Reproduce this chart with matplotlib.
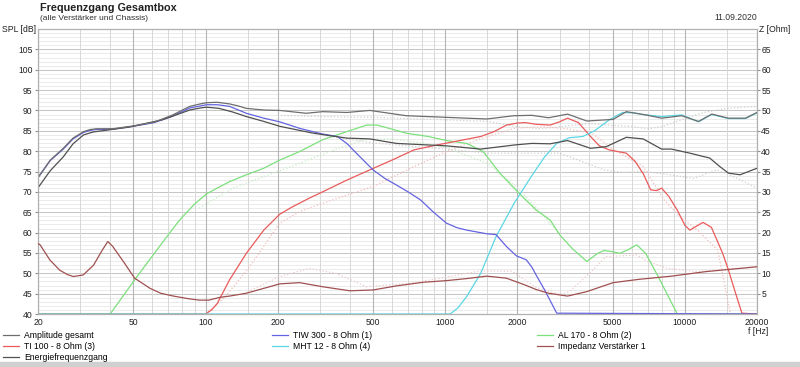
import matplotlib
matplotlib.use("Agg")
import matplotlib.pyplot as plt
from matplotlib.patches import Rectangle
from matplotlib.ticker import FixedLocator, NullFormatter

plt.rcParams['font.family'] = ['Liberation Sans', 'DejaVu Sans']

# ---------------- data ----------------
amp_f = [20, 20.4, 22.5, 25.5, 28, 31, 33, 35, 41, 50, 61, 73, 86, 95, 101, 112, 126, 137, 148, 175,
         204, 263, 308, 389, 485, 688, 1013, 1492, 1935, 2300, 2700, 3240, 3900, 5020, 5700, 6860, 8000,
         9700, 11400, 12950, 15200, 17900, 20000]
amp_db = [73.5, 74.2, 77.8, 80.7, 83.2, 84.8, 85.3, 85.5, 85.5, 86.2, 87.1, 88.9, 91.0, 91.6, 91.9, 92.0,
          91.6, 91.1, 90.5, 90.1, 90.0, 89.3, 89.7, 89.5, 90.0, 88.7, 88.3, 87.9, 88.7, 88.8, 88.2, 89.1,
          87.4, 87.8, 89.7, 88.9, 88.1, 88.7, 87.3, 89.1, 88.1, 88.1, 89.5]

energy_f = [20, 20.4, 22.5, 25.5, 28, 31, 34, 37, 48, 66, 86, 95, 101, 114, 130, 148, 175, 204, 282,
            389, 485, 625, 1013, 1407, 1935, 2300, 2740, 3240, 4040, 4700, 5700, 6700, 8000, 8800, 10500,
            12700, 14000, 15200, 17000, 20000]
energy_db = [71.0, 71.7, 75.2, 78.6, 81.8, 84.0, 84.7, 85.0, 85.9, 87.7, 90.1, 90.6, 90.8, 90.5, 89.6,
             88.5, 87.3, 86.1, 84.4, 83.2, 83.0, 81.9, 81.3, 80.5, 81.5, 81.9, 81.8, 82.6, 80.7, 81.1, 83.4,
             83.0, 80.5, 80.5, 79.5, 78.3, 76.2, 74.6, 74.2, 75.8]

tiw_f = [20, 20.4, 22.5, 25.5, 28, 31, 33, 35, 41, 50, 61, 73, 86, 95, 101, 112, 126, 148, 175, 204,
         247, 308, 355, 390, 426, 500, 560, 625, 700, 790, 890, 1013, 1120, 1230, 1492, 1630, 1800, 1980,
         2180, 2300, 2400, 2600, 2920, 20000]
tiw_db = [73.5, 74.2, 77.7, 80.5, 83.0, 84.6, 85.1, 85.3, 85.4, 86.1, 87.0, 88.6, 90.6, 91.1, 91.4, 91.4,
          91.0, 89.3, 88.1, 87.2, 85.6, 84.2, 83.6, 81.8, 79.5, 75.4, 73.3, 71.7, 70.0, 68.0, 65.1, 62.3,
          61.2, 60.6, 59.7, 59.5, 56.6, 54.3, 53.3, 51.5, 49.5, 45.9, 40.2, 40.0]

ti_f = [20, 100, 106, 112, 126, 148, 175, 204, 230, 270, 308, 389, 485, 600, 740, 920, 1150, 1407,
        1600, 1800, 2000, 2160, 2400, 2740, 3000, 3240, 3600, 4040, 4400, 4840, 5700, 6200, 6700, 7200,
        7600, 8000, 8570, 9300, 10000, 10500, 11200, 11900, 12900, 13600, 14400, 15200, 16300, 17300,
        20000]
ti_db = [40, 40, 41.0, 42.6, 48.4, 54.9, 60.6, 64.5, 66.3, 68.4, 70.0, 72.9, 75.4, 77.8, 80.3, 81.5,
         82.6, 83.6, 84.8, 86.4, 86.9, 87.0, 86.6, 86.4, 87.2, 88.1, 87.0, 83.6, 81.3, 80.3, 79.5, 77.5,
         74.5, 70.5, 70.3, 70.9, 68.9, 65.5, 61.8, 60.6, 61.6, 62.5, 61.3, 58.2, 54.8, 50.8, 45.0, 40.2,
         40]

al_f = [20, 40, 51.5, 66, 78, 90, 101, 115, 126, 148, 175, 204, 247, 308, 389, 470, 520, 600, 688, 850,
        1013, 1230, 1440, 1690, 2030, 2400, 2740, 3010, 3400, 3900, 4300, 4600, 5000, 5350, 5800, 6300,
        6860, 7740, 8500, 9300, 20000]
al_db = [40, 40, 49.0, 57.5, 63.1, 67.0, 69.5, 71.3, 72.5, 74.2, 75.8, 77.8, 79.9, 82.8, 84.8, 86.4,
         86.4, 85.4, 84.4, 83.6, 82.6, 81.9, 79.9, 74.6, 69.7, 65.5, 63.1, 59.4, 56.0, 52.9, 54.8, 55.6,
         55.3, 54.9, 55.8, 57.0, 54.9, 49.2, 44.5, 40.0, 40.0]

mht_f = [20, 1050, 1130, 1230, 1407, 1630, 1940, 2300, 2600, 2920, 3300, 3750, 4200, 4840, 5500, 6100,
         6860, 8000, 9700, 11400, 12950, 15200, 17900, 20000]
mht_db = [40, 40, 41.5, 44.3, 50.0, 59.0, 67.2, 74.0, 78.6, 81.9, 83.3, 83.6, 85.0, 87.7, 89.5, 89.4,
          88.9, 88.5, 88.9, 87.2, 89.0, 88.0, 88.0, 89.4]

imp_f = [20, 20.4, 22.4, 24.6, 26.5, 28.1, 30.9, 34.1, 37.1, 39.1, 41.0, 45.4, 50.6, 58.7, 65, 73.5,
         84, 94.4, 103, 115, 126, 148, 175, 204, 247, 308, 400, 500, 625, 812, 1013, 1230, 1492, 1800,
         2160, 2400, 2700, 3240, 3900, 5020, 6400, 8800, 12200, 20000]
imp_z = [17.3, 17.0, 13.3, 10.8, 9.7, 9.2, 9.6, 12.0, 15.7, 17.8, 16.6, 12.9, 8.8, 6.3, 5.1, 4.4, 3.8,
         3.4, 3.4, 4.1, 4.4, 5.1, 6.3, 7.4, 7.7, 6.7, 5.7, 5.9, 6.9, 7.8, 8.2, 8.7, 9.3, 8.8, 7.1, 6.0,
         5.1, 4.4, 5.5, 7.7, 8.5, 9.3, 10.4, 11.6]

# faint dotted reference curves
dot_amp_f = [200, 300, 500, 1000, 1500, 2000, 2500, 3000, 4000, 5000, 6000, 7000, 8000, 10000, 12000,
             15000, 20000]
dot_amp_db = [88.8, 88.5, 88.3, 87.7, 87.3, 86.0, 85.5, 86.0, 86.8, 86.3, 86.1, 85.5, 86.0, 88.0, 89.5,
              90.5, 91.0]
dot_en_f = [300, 500, 1000, 1500, 2000, 3010, 4600, 5500, 6700, 8000, 10900, 13600, 17000, 20000]
dot_en_db = [84.0, 82.0, 80.5, 79.5, 79.5, 79.5, 75.4, 74.8, 75.0, 74.5, 73.3, 75.4, 73.0, 70.9]
dot_ti_f = [100, 120, 150, 204, 250, 338, 500, 700, 1013, 1400, 1935, 2500, 3200, 4100, 5000, 6700,
            8200, 9500, 11300, 13700, 14800, 15500]
dot_ti_db = [40, 44, 51, 62.3, 65.3, 68.0, 71.3, 75.5, 79.9, 83.0, 85.6, 86.0, 85.5, 84.4, 80.5, 76.2,
             68.0, 64.0, 60.6, 55.7, 46.0, 40]
dot_al_f = [94, 130, 180, 247, 350, 470, 600, 800, 1000, 1500, 2000, 2500, 3000]
dot_al_db = [66.0, 70.9, 74.0, 77.0, 80.5, 83.0, 83.0, 82.0, 81.0, 77.0, 71.0, 65.0, 59.5]
dot_low_f = [150, 204, 270, 350, 470, 700, 1000, 1400, 1900, 2400, 3000, 3300, 4000, 4700, 6300, 7000,
             8500, 11200, 20000]
dot_low_db = [45.5, 49.2, 51.2, 50.0, 46.7, 47.5, 49.0, 50.6, 50.5, 46.5, 44.8, 45.5, 50.0, 54.1, 54.5,
              52.9, 51.2, 50.4, 51.6]

spl_ticks = [40, 45, 50, 55, 60, 65, 70, 75, 80, 85, 90, 95, 100, 105]
z_ticks = [5, 10, 15, 20, 25, 30, 35, 40, 45, 50, 55, 60, 65]
f_major = [20, 50, 100, 200, 500, 1000, 2000, 5000, 10000, 20000]
f_minor = [30, 40, 60, 70, 80, 90, 150, 300, 400, 600, 700, 800, 900, 1500, 3000, 4000, 6000, 7000,
           8000, 9000, 15000]

# ---------------- figure ----------------
fig = plt.figure(figsize=(8.0, 3.67), dpi=100)
ax = fig.add_axes([38 / 800, 1 - 314 / 367, (757 - 38) / 800, (314 - 29) / 367])
ax.set_xscale('log')
ax.set_xlim(20, 20000)
ax.set_ylim(40, 110)

# grid
for v in range(41, 110):
    if v % 5:
        ax.axhline(v, color='#e8e8e8', lw=0.6, zorder=0)
for v in range(45, 110, 5):
    ax.axhline(v, color='#c4c4c4', lw=0.7, zorder=0)
for f in f_minor:
    ax.axvline(f, color='#d8d8d8', lw=0.7, zorder=0)
for f in f_major:
    ax.axvline(f, color='#b6b6b6', lw=0.8, zorder=0)

lw = 0.9
# dotted faint curves
ax.plot(dot_amp_f, dot_amp_db, ls=':', color='#cfcfcf', lw=0.9, zorder=1)
ax.plot(dot_en_f, dot_en_db, ls=':', color='#cfcfcf', lw=0.9, zorder=1)
ax.plot(dot_ti_f, dot_ti_db, ls=':', color='#f4bcbc', lw=0.9, zorder=1)
ax.plot(dot_al_f, dot_al_db, ls=':', color='#c4ecc4', lw=0.9, zorder=1)
ax.plot(dot_low_f, dot_low_db, ls=':', color='#ebcaca', lw=0.9, zorder=1)

h_al, = ax.plot(al_f, al_db, color='#7ce07c', lw=lw, label='AL 170 - 8 Ohm (2)', zorder=3)
h_ti, = ax.plot(ti_f, ti_db, color='#ea5a5a', lw=lw, label='TI 100 - 8 Ohm (3)', zorder=3)
h_mht, = ax.plot(mht_f, mht_db, color='#5cd6e4', lw=lw, label='MHT 12 - 8 Ohm (4)', zorder=3)
h_tiw, = ax.plot(tiw_f, tiw_db, color='#6464e0', lw=lw, label='TIW 300 - 8 Ohm (1)', zorder=4)
h_en, = ax.plot(energy_f, energy_db, color='#505050', lw=lw, label='Energiefrequenzgang', zorder=5)
h_amp, = ax.plot(amp_f, amp_db, color='#6e6e6e', lw=lw, label='Amplitude gesamt', zorder=5)

ax2 = ax.twinx()
ax2.set_ylim(0, 70)
h_imp, = ax2.plot(imp_f, imp_z, color='#a05050', lw=lw, label='Impedanz Verstärker 1', zorder=5)

# ticks
ax.xaxis.set_major_locator(FixedLocator(f_major))
ax.xaxis.set_minor_locator(FixedLocator(f_minor))
ax.xaxis.set_minor_formatter(NullFormatter())
ax.set_xticklabels([str(f) for f in f_major])
ax.set_yticks(spl_ticks)
ax.set_yticklabels([str(v) for v in spl_ticks])
ax2.set_yticks(z_ticks)
ax2.set_yticklabels([str(v) for v in z_ticks])
ax.tick_params(axis='x', which='both', length=0, pad=3, labelsize=6.2, colors='#202020')
ax.tick_params(axis='y', length=2, pad=2, labelsize=6.2, colors='#202020', color='#909090')
ax2.tick_params(axis='y', length=2, pad=1, labelsize=6.2, colors='#202020', color='#909090')
for a in (ax, ax2):
    for s in a.spines.values():
        s.set_color('#b0b0b0')
        s.set_linewidth(0.8)

# texts
fig.text(40 / 800, 1 - 8 / 367, 'Frequenzgang Gesamtbox', fontsize=7.8, fontweight='bold',
         ha='left', va='center', color='#202020')
fig.text(40 / 800, 1 - 19 / 367, '(alle Verstärker und Chassis)', fontsize=6.0,
         ha='left', va='center', color='#303030')
fig.text(757 / 800, 1 - 18 / 367, '11.09.2020', fontsize=6.2, ha='right', va='center', color='#303030')
fig.text(36 / 800, 1 - 30 / 367, 'SPL [dB]', fontsize=6.2, ha='right', va='center', color='#202020')
fig.text(759 / 800, 1 - 30 / 367, 'Z [Ohm]', fontsize=6.2, ha='left', va='center', color='#202020')
fig.text(758 / 800, 1 - 332 / 367, 'f [Hz]', fontsize=6.2, ha='center', va='center', color='#202020')

# legend in three columns
leg_kw = dict(frameon=False, fontsize=6.2, handlelength=1.9, handletextpad=0.55, labelspacing=0.25,
              borderpad=0, borderaxespad=0, loc='upper left')
fig.legend(handles=[h_amp, h_ti, h_en], bbox_to_anchor=(3 / 800, 1 - 331 / 367), **leg_kw)
fig.legend(handles=[h_tiw, h_mht], bbox_to_anchor=(272 / 800, 1 - 331 / 367), **leg_kw)
fig.legend(handles=[h_al, h_imp], bbox_to_anchor=(537 / 800, 1 - 331 / 367), **leg_kw)

fig.patches.append(Rectangle((0, 0), 1, 5 / 367, transform=fig.transFigure, color='#d0d0d0', zorder=0))

fig.savefig('out.png', dpi=100)
